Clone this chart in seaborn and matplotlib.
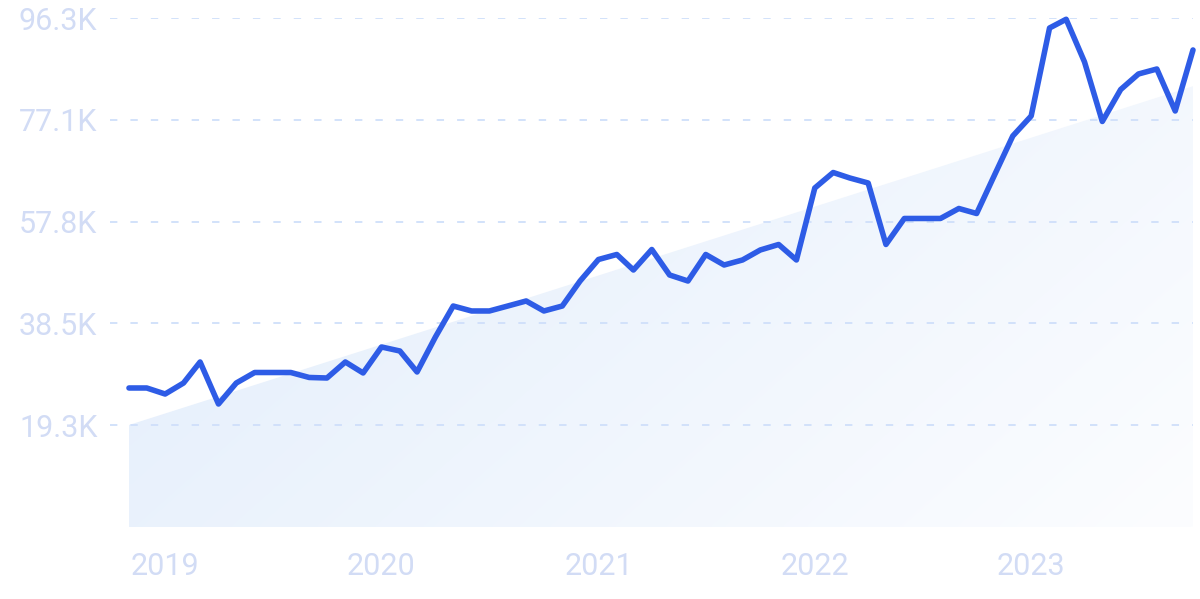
import numpy as np
import pandas as pd
import seaborn as sns
import matplotlib.pyplot as plt
import matplotlib.dates as mdates

# monthly values, Nov 2018 - Oct 2023
values = [26300, 26300, 25160, 27240, 31220, 23270, 27240, 29230, 29230, 29230,
          28290, 28190, 31220, 29140, 34060, 33300, 29330, 35950, 41810, 40870,
          40870, 41810, 42760, 40870, 41810, 46540, 50610, 51560, 48620, 52500,
          47680, 46540, 51560, 49570, 50520, 52410, 53450, 50520, 64140, 67070,
          66030, 65080, 53450, 58370, 58370, 58370, 60260, 59310, 66790, 73980,
          77760, 94410, 96060, 87980, 76720, 82770, 85710, 86650, 78710, 90250]
trend_start = 19300
trend_end = 83400
y_ticks = [19260, 38520, 57780, 77040, 96300]
y_tick_labels = ['19.3K', '38.5K', '57.8K', '77.1K', '96.3K']
years = ['2019', '2020', '2021', '2022', '2023']

dates = pd.date_range('2018-11-01', periods=len(values), freq='MS')
df = pd.DataFrame({'date': dates, 'value': values})

sns.set_style('white')
plt.rcParams['font.family'] = ['Roboto', 'DejaVu Sans']
plt.rcParams['lines.scale_dashes'] = False

fig = plt.figure(figsize=(12, 5.99), dpi=100)
ax = fig.add_axes([110 / 1200, 72 / 599, (1193 - 110) / 1200, (527 - 18) / 599])

# trend area with diagonal gradient
x0 = mdates.date2num(dates[0])
x1 = mdates.date2num(dates[-1])
poly = ax.fill_between([dates[0], dates[-1]], [trend_start, trend_end], 0,
                       color='none', linewidth=0)
n = 200
xx, yy = np.meshgrid(np.linspace(0, 1, n), np.linspace(0, 1, n))
t = (xx * 0.65 + yy * 0.35)
c0 = np.array([224, 236, 251]) / 255
c1 = np.array([252, 253, 255]) / 255
img = c0[None, None, :] * (1 - t[..., None]) + c1[None, None, :] * t[..., None]
im = ax.imshow(img, extent=[x0, x1, 0, 96300], aspect='auto', origin='upper',
               zorder=1, interpolation='bilinear')
im.set_clip_path(poly.get_paths()[0], transform=ax.transData)

sns.lineplot(data=df, x='date', y='value', ax=ax, color='#2E5CE6',
             linewidth=4.0, zorder=3, clip_on=False)

ax.set_xlim(dates[0] - pd.Timedelta(days=32), dates[-1])
ax.set_ylim(0, 96300)

ax.set_yticks(y_ticks)
ax.set_yticklabels(y_tick_labels)
ax.set_xticks([pd.Timestamp(f'{y}-01-01') for y in years])
ax.set_xticklabels(years)

ax.grid(axis='y', color='#CFDFFA', linestyle=(0, (5.3, 9.4)), linewidth=1.3, zorder=2)
ax.grid(axis='x', visible=False)
ax.set_axisbelow(False)
for s in ax.spines.values():
    s.set_visible(False)
ax.tick_params(axis='both', length=0, labelsize=22, labelcolor='#D2DCF5')
ax.tick_params(axis='y', pad=9)
ax.tick_params(axis='x', pad=18)
ax.set_xlabel('')
ax.set_ylabel('')

plt.savefig('out.png', dpi=100)
